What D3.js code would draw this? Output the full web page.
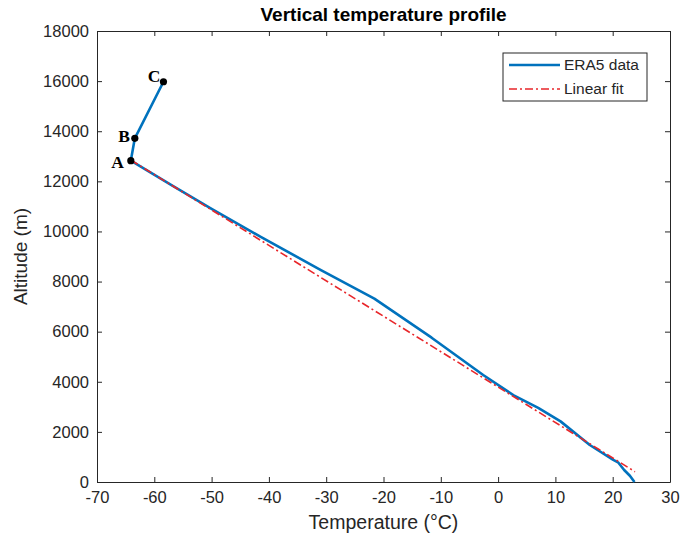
<!DOCTYPE html>
<html>
<head>
<meta charset="utf-8">
<script src="https://cdn.jsdelivr.net/npm/d3@7"></script>
<style>
  body { margin: 0; background: #fff; }
  text { font-family: "Liberation Sans", Arial, sans-serif; fill: #262626; }
</style>
</head>
<body>
<script>
// ERA5 profile (surface up)
var eraTemp = [23.8, 23.0, 22.0, 21.55, 21.0, 20.1, 16.0, 10.9, 7.0, 2.65, -2.6, -11.6, -21.6, -31.0, -41.5, -50.0, -57.0, -64.1, -63.4, -58.4];
var eraAlt  = [0, 250, 480, 610, 770, 880, 1477, 2420, 2960, 3470, 4270, 5760, 7320, 8470, 9790, 10900, 11850, 12823, 13717, 15975];

// linear fit end points
var fitTemp = [-64.1, 23.9];
var fitAlt  = [12850, 410];

// marked points
var markLabel = ["A", "B", "C"];
var markTemp  = [-64.1, -63.4, -58.4];
var markAlt   = [12823, 13717, 15975];

var xTicks = [-70, -60, -50, -40, -30, -20, -10, 0, 10, 20, 30];
var yTicks = [0, 2000, 4000, 6000, 8000, 10000, 12000, 14000, 16000, 18000];

var W = 681, H = 538;
var plotLeft = 97, plotRight = 670, plotTop = 31, plotBottom = 482;

var svg = d3.select("body").append("svg")
    .attr("width", W)
    .attr("height", H);

var x = d3.scaleLinear().domain([-70, 30]).range([plotLeft, plotRight]);
var y = d3.scaleLinear().domain([0, 18000]).range([plotBottom, plotTop]);

// plain hyphen minus like MATLAB
var plainFmt = function(d) { return String(d); };

// axes (MATLAB style, ticks inside, box on)
var axisStyle = function(g) {
    g.select(".domain").attr("stroke", "#262626").attr("stroke-width", 1);
    g.selectAll(".tick line").attr("stroke", "#262626");
    g.selectAll(".tick text")
        .style("font-size", "16.5px")
        .attr("fill", "#262626");
};

svg.append("g")
    .attr("transform", "translate(0," + plotBottom + ")")
    .call(d3.axisBottom(x).tickValues(xTicks).tickFormat(plainFmt).tickSizeInner(-5).tickSizeOuter(0).tickPadding(9))
    .call(axisStyle);

svg.append("g")
    .attr("transform", "translate(" + plotLeft + ",0)")
    .call(d3.axisLeft(y).tickValues(yTicks).tickFormat(plainFmt).tickSizeInner(-5).tickSizeOuter(0).tickPadding(8))
    .call(axisStyle);

svg.append("g")
    .attr("transform", "translate(0," + plotTop + ")")
    .call(d3.axisTop(x).tickValues(xTicks).tickSizeInner(-5).tickSizeOuter(0).tickFormat(""))
    .call(axisStyle);

svg.append("g")
    .attr("transform", "translate(" + plotRight + ",0)")
    .call(d3.axisRight(y).tickValues(yTicks).tickSizeInner(-5).tickSizeOuter(0).tickFormat(""))
    .call(axisStyle);

// lines
var eraData = eraTemp.map(function(t, i) { return [t, eraAlt[i]]; });
var fitData = fitTemp.map(function(t, i) { return [t, fitAlt[i]]; });

var line = d3.line()
    .x(function(d) { return x(d[0]); })
    .y(function(d) { return y(d[1]); });

svg.append("path")
    .datum(eraData)
    .attr("d", line)
    .attr("fill", "none")
    .attr("stroke", "#0072BD")
    .attr("stroke-width", 2.6)
    .attr("stroke-linejoin", "round");

svg.append("path")
    .datum(fitData)
    .attr("d", line)
    .attr("fill", "none")
    .attr("stroke", "#e8262a")
    .attr("stroke-width", 1.6)
    .attr("stroke-dasharray", "8,3,2,3");

// marked points A, B, C
svg.selectAll("circle.mark")
    .data(markLabel)
    .enter()
    .append("circle")
    .attr("class", "mark")
    .attr("cx", function(d, i) { return x(markTemp[i]); })
    .attr("cy", function(d, i) { return y(markAlt[i]); })
    .attr("r", 3.6)
    .attr("fill", "#000");

// label nudges so each letter sits where it does in the figure
var labelDx = [-7, -5, -3];
var labelDy = [7, 4, 0];

svg.selectAll("text.mark")
    .data(markLabel)
    .enter()
    .append("text")
    .attr("class", "mark")
    .attr("x", function(d, i) { return x(markTemp[i]) + labelDx[i]; })
    .attr("y", function(d, i) { return y(markAlt[i]) + labelDy[i]; })
    .attr("text-anchor", "end")
    .style("font-family", "'Liberation Serif', 'Times New Roman', serif")
    .style("font-weight", "bold")
    .style("font-size", "17.5px")
    .style("fill", "#000")
    .text(function(d) { return d; });

// title and axis labels
svg.append("text")
    .attr("x", (plotLeft + plotRight) / 2)
    .attr("y", 21)
    .attr("text-anchor", "middle")
    .style("font-size", "19px")
    .style("font-weight", "bold")
    .style("fill", "#000")
    .text("Vertical temperature profile");

svg.append("text")
    .attr("x", (plotLeft + plotRight) / 2)
    .attr("y", 529)
    .attr("text-anchor", "middle")
    .style("font-size", "19.5px")
    .text("Temperature (°C)");

svg.append("text")
    .attr("transform", "translate(27," + (plotTop + plotBottom) / 2 + ") rotate(-90)")
    .attr("text-anchor", "middle")
    .style("font-size", "19px")
    .text("Altitude (m)");

// legend
var legend = svg.append("g").attr("transform", "translate(503,53)");
legend.append("rect")
    .attr("width", 144)
    .attr("height", 48)
    .attr("fill", "#fff")
    .attr("stroke", "#262626")
    .attr("stroke-width", 1);

var legendNames = ["ERA5 data", "Linear fit"];
var legendColors = ["#0072BD", "#e8262a"];
var legendDash = [null, "8,3,2,3"];
var legendWidth = [2.6, 1.6];

legendNames.forEach(function(name, i) {
    var ly = 12 + i * 24;
    legend.append("line")
        .attr("x1", 6).attr("x2", 57)
        .attr("y1", ly).attr("y2", ly)
        .attr("stroke", legendColors[i])
        .attr("stroke-width", legendWidth[i])
        .attr("stroke-dasharray", legendDash[i]);
    legend.append("text")
        .attr("x", 61)
        .attr("y", ly + 5)
        .style("font-size", "15.5px")
        .text(name);
});
</script>
</body>
</html>
